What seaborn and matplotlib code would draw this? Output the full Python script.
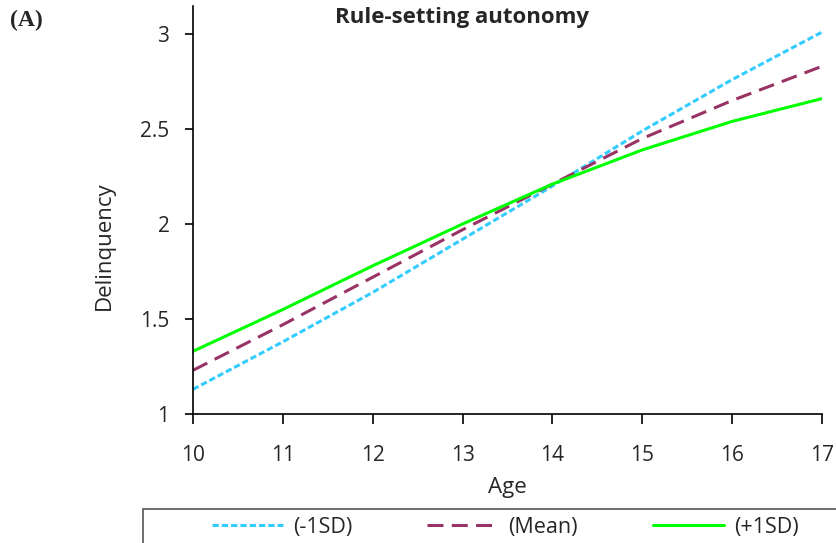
import matplotlib
matplotlib.use("Agg")
import matplotlib.pyplot as plt
from matplotlib.patches import Rectangle
import seaborn as sns
import pandas as pd

ages = [10, 11, 12, 13, 14, 15, 16, 17]
minus_sd = [1.13, 1.38, 1.64, 1.92, 2.20, 2.49, 2.76, 3.01]
mean_vals = [1.23, 1.47, 1.72, 1.97, 2.21, 2.45, 2.65, 2.83]
plus_sd = [1.33, 1.55, 1.78, 2.00, 2.21, 2.39, 2.54, 2.66]
series_names = ["(-1SD)", "(Mean)", "(+1SD)"]
y_ticks = [1, 1.5, 2, 2.5, 3]
y_tick_labels = ["1", "1.5", "2", "2.5", "3"]

df = pd.DataFrame({
    "Age": ages * 3,
    "Delinquency": minus_sd + mean_vals + plus_sd,
    "Group": [series_names[0]] * len(ages) + [series_names[1]] * len(ages) + [series_names[2]] * len(ages),
})

sns.set_style("ticks")
plt.rcParams["font.family"] = ["Open Sans", "DejaVu Sans"]
plt.rcParams["lines.scale_dashes"] = False

W, H = 837, 543
fig = plt.figure(figsize=(W / 100, H / 100), dpi=100)
ax = fig.add_axes([193 / W, 1 - 414 / H, (822 - 193) / W, (414 - 6) / H])

palette = {"(-1SD)": "#33CCFF", "(Mean)": "#993366", "(+1SD)": "#00FF00"}
dashes = {"(-1SD)": (4.5, 2.2), "(Mean)": (11.5, 6), "(+1SD)": ""}

sns.lineplot(data=df, x="Age", y="Delinquency", hue="Group", style="Group",
             palette=palette, dashes=dashes, linewidth=2.2, ax=ax, legend=True)

ax.set_xlim(10, 17)
ax.set_ylim(1, 1 + (414 - 6) / 190)
ax.set_xticks(ages)
ax.set_xticklabels([str(a) for a in ages], fontsize=15)
ax.set_yticks(y_ticks)
ax.set_yticklabels(y_tick_labels, fontsize=15)
ax.tick_params(axis="x", length=7, width=1.2, pad=15, color="#000000")
ax.tick_params(axis="y", length=6, width=1.2, pad=11, color="#000000")
for s in ["top", "right"]:
    ax.spines[s].set_visible(False)
for s in ["left", "bottom"]:
    ax.spines[s].set_linewidth(1.2)
    ax.spines[s].set_color("#000000")
ax.set_xlabel("Age", fontsize=16)
ax.xaxis.set_label_coords((507 - 193) / 629, -(487 - 414) / 408)
ax.xaxis.label.set_va("center")
ax.set_ylabel("Delinquency", fontsize=16)
ax.yaxis.set_label_coords((104 - 193) / 629, (414 - 246) / 408)
ax.yaxis.label.set_va("center")

handles, labels = ax.get_legend_handles_labels()
ax.get_legend().remove()
fig.patches.append(Rectangle((143 / W, -0.05), 1.0, 1 - 509 / H + 0.05,
                             transform=fig.transFigure, fill=False,
                             edgecolor="#555555", linewidth=1.2))
leg = fig.legend(handles, labels, loc="center left", ncol=3,
                 bbox_to_anchor=(212 / W, 1 - 527 / H),
                 fontsize=15.5, frameon=False, handlelength=3.3,
                 handletextpad=0.45, borderpad=0, columnspacing=3.5,
                 borderaxespad=0)

fig.text(462 / W, 1 - 17 / H, "Rule-setting autonomy", ha="center", va="center",
         fontsize=16, fontweight="bold")
fig.text(10 / W, 1 - 20 / H, "(A)", ha="left", va="center", fontsize=17,
         fontweight="bold", family="Liberation Serif")

fig.savefig("out.png", dpi=100)
